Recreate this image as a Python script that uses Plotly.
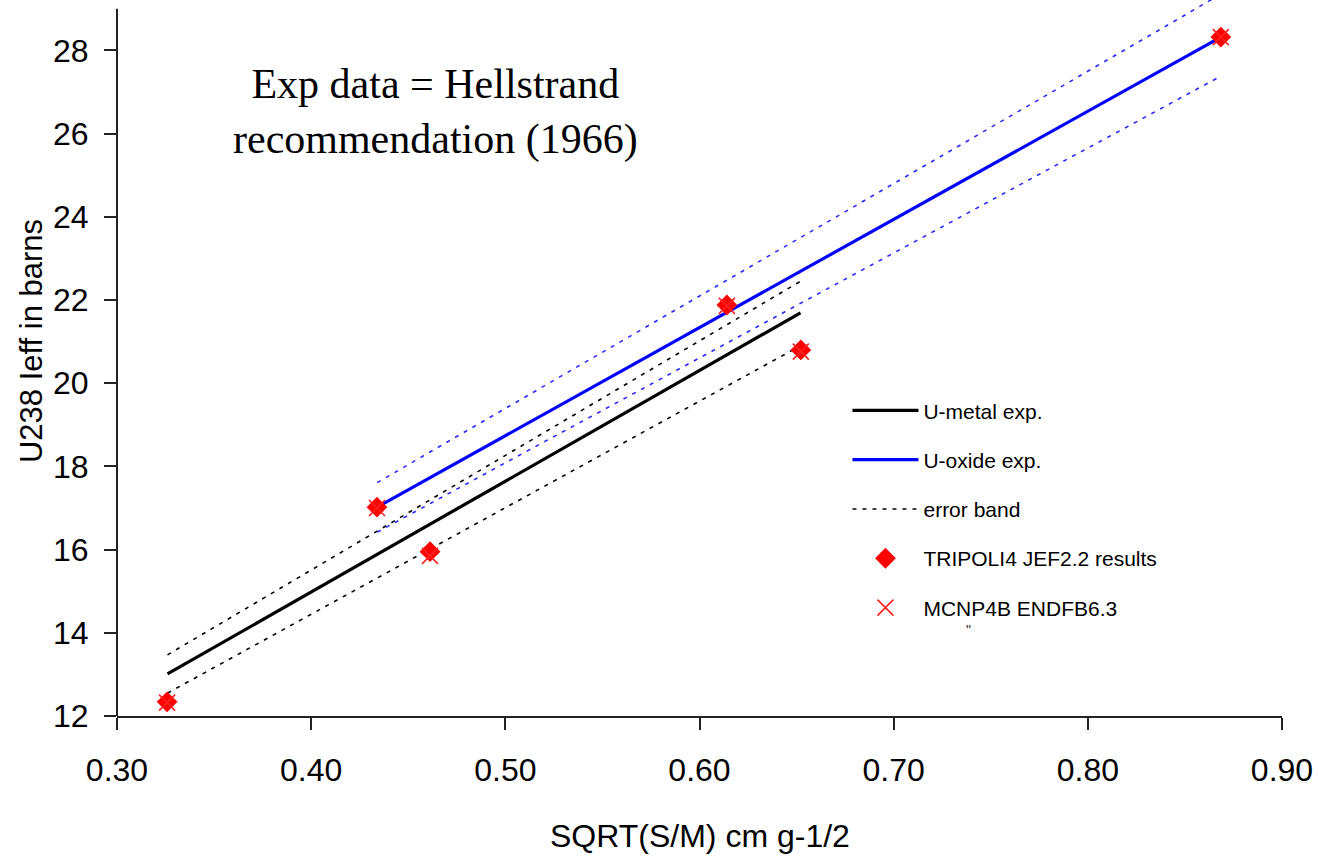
import plotly.graph_objects as go

# ---- data ----
metal_x = [0.326, 0.652]
metal_y = [13.01, 21.69]
metal_hi = [13.47, 22.45]
metal_lo = [12.55, 20.90]

oxide_x = [0.434, 0.8685]
oxide_y = [17.02, 28.32]
oxide_hi = [17.61, 29.35]
oxide_lo = [16.42, 27.38]

pts_x = [0.3258, 0.4339, 0.4612, 0.6141, 0.6522, 0.8685]
tripoli_y = [12.34, 17.02, 15.95, 21.88, 20.80, 28.32]
mcnp_y = [12.32, 17.00, 15.85, 21.86, 20.76, 28.32]

x_ticks = [0.30, 0.40, 0.50, 0.60, 0.70, 0.80, 0.90]
x_tick_labels = ["0.30", "0.40", "0.50", "0.60", "0.70", "0.80", "0.90"]
y_ticks = [12, 14, 16, 18, 20, 22, 24, 26, 28]

ARIAL = "Liberation Sans, Arial, sans-serif"
TIMES = "Liberation Serif, Times New Roman, serif"
DASH = "4px,6px"

fig = go.Figure()

# experimental lines
fig.add_trace(go.Scatter(x=metal_x, y=metal_y, mode="lines", name="U-metal exp.",
                         line=dict(color="black", width=3.2), legendgroup="a"))
fig.add_trace(go.Scatter(x=oxide_x, y=oxide_y, mode="lines", name="U-oxide exp.",
                         line=dict(color="#0000ff", width=3.2), legendgroup="b"))
# error bands
fig.add_trace(go.Scatter(x=metal_x, y=metal_hi, mode="lines", name="error band",
                         line=dict(color="black", width=1.6, dash=DASH), legendgroup="c"))
fig.add_trace(go.Scatter(x=metal_x, y=metal_lo, mode="lines", showlegend=False,
                         line=dict(color="black", width=1.6, dash=DASH), legendgroup="c"))
fig.add_trace(go.Scatter(x=oxide_x, y=oxide_hi, mode="lines", showlegend=False,
                         line=dict(color="#2a2aff", width=1.6, dash=DASH), legendgroup="c"))
fig.add_trace(go.Scatter(x=oxide_x, y=oxide_lo, mode="lines", showlegend=False,
                         line=dict(color="#2a2aff", width=1.6, dash=DASH), legendgroup="c"))
# results
fig.add_trace(go.Scatter(x=pts_x, y=tripoli_y, mode="markers", name="TRIPOLI4 JEF2.2 results",
                         marker=dict(symbol="diamond", size=16, color="#ff0000",
                                     line=dict(width=0)), legendgroup="d"))
fig.add_trace(go.Scatter(x=pts_x, y=mcnp_y, mode="markers", name="MCNP4B ENDFB6.3",
                         marker=dict(symbol="x-thin", size=16, color="#ff2020",
                                     line=dict(width=1.6, color="#ff2020")), legendgroup="e"))

Y_TOP = 12 + 716 / 41.6

fig.update_layout(
    width=1318, height=858,
    margin=dict(l=117, r=36, t=0, b=142),
    paper_bgcolor="white", plot_bgcolor="white",
    font=dict(family=ARIAL, color="black"),
    showlegend=True,
    legend=dict(x=0.627, y=0.455, xanchor="left", yanchor="top",
                font=dict(family=ARIAL, size=21, color="black"),
                bgcolor="rgba(0,0,0,0)", borderwidth=0,
                itemwidth=66, tracegroupgap=19, traceorder="grouped"),
    xaxis=dict(range=[0.30, 0.90], tickvals=x_ticks, ticktext=x_tick_labels,
               showgrid=False, zeroline=False, showline=True, linecolor="#222",
               linewidth=2, ticks="outside", ticklen=12, tickwidth=1.5, tickcolor="#222",
               tickfont=dict(family=ARIAL, size=32, color="black"),
               ticklabelstandoff=13),
    yaxis=dict(range=[12, Y_TOP], tickvals=y_ticks,
               showgrid=False, zeroline=False, showline=False,
               ticks="outside", ticklen=12, tickwidth=1.5, tickcolor="#222",
               tickfont=dict(family=ARIAL, size=32, color="black"),
               ticklabelstandoff=9),
)

# y axis line (stops below the plot top like the reference)
fig.add_shape(type="line", xref="paper", yref="y", x0=0, x1=0, y0=11.72, y1=29.0,
              line=dict(color="#222", width=2))

fig.add_annotation(text="Exp data = Hellstrand<br>recommendation (1966)",
                   xref="paper", yref="paper", x=0.2738, y=0.843,
                   xanchor="center", yanchor="middle", showarrow=False,
                   font=dict(family=TIMES, size=42, color="black"))
fig.add_annotation(text="U238 Ieff in barns", textangle=-90,
                   xref="paper", yref="paper", x=-0.0738, y=0.5237,
                   xanchor="center", yanchor="middle", showarrow=False,
                   font=dict(family=ARIAL, size=31, color="black"))
fig.add_annotation(text="SQRT(S/M) cm g-1/2",
                   xref="paper", yref="paper", x=0.5, y=-0.1676,
                   xanchor="center", yanchor="middle", showarrow=False,
                   font=dict(family=ARIAL, size=32, color="black"))
fig.add_annotation(text="\"", xref="paper", yref="paper", x=0.7305, y=0.12,
                   xanchor="center", yanchor="middle", showarrow=False,
                   font=dict(family=ARIAL, size=14, color="#333"))

fig.write_html("out.html", config={"displayModeBar": False},
               post_script="document.body.style.margin='0px';document.body.style.padding='0px';")
